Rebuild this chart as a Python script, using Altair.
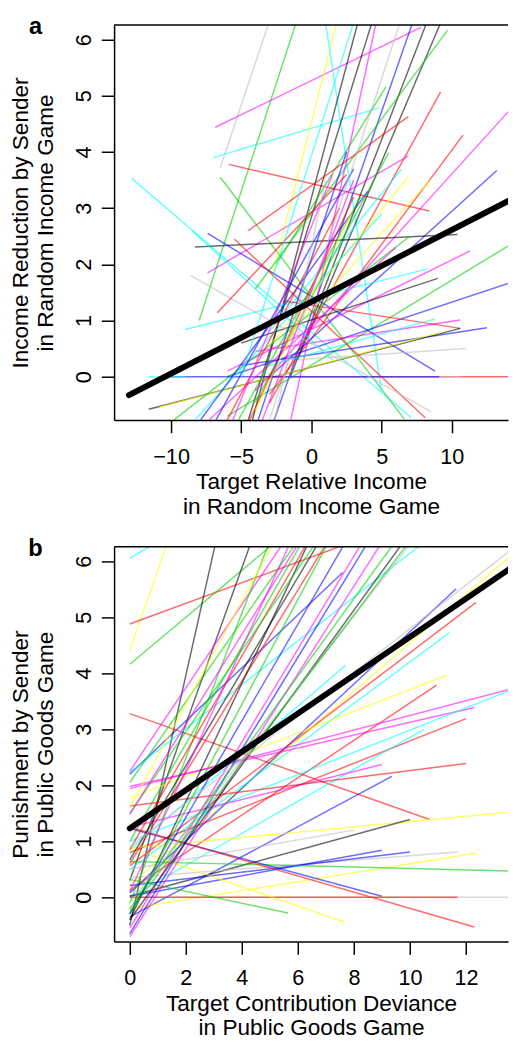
import altair as alt
import pandas as pd

FONT = "Liberation Sans"
FS = 22
TFS = 23
W = 401
H = 402

PALETTE_NAMES = ["black", "red", "green", "blue", "cyan", "magenta", "yellow", "gray"]
PALETTE_HEX = ["#000000", "#FF0000", "#00CD00", "#0000FF", "#00FFFF", "#FF00FF", "#FFFF00", "#BEBEBE"]

# ---------------- Panel a: individual regression segments ----------------
A_COL = ["gray", "green", "magenta", "cyan", "red", "cyan", "green", "yellow", "cyan", "black",
         "black", "black", "black", "blue", "magenta", "green", "green", "red", "red", "red",
         "magenta", "blue", "magenta", "cyan", "yellow", "yellow", "green", "black", "blue", "green",
         "magenta", "cyan", "black", "blue", "magenta", "red", "blue", "cyan", "black", "yellow",
         "gray", "red", "gray", "blue", "cyan", "red", "cyan", "gray", "red", "green",
         "cyan", "blue", "magenta", "blue", "red", "magenta", "green", "red", "gray", "blue",
         "magenta", "gray", "yellow", "cyan"]
A_X1 = [-6.5, -8.0, -6.85, -7.0, -5.9, -12.8, -6.5, -2.8, 1.0, -4.2,
        -4.5, -1.5, -1.0, -2.7, -1.5, -4.0, -2.5, -3.0, -4.5, -3.0,
        -4.0, -3.0, -7.4, -3.0, -3.0, -2.5, -4.0, -8.3, -7.4, -6.0,
        -6.0, -9.0, -5.0, -6.0, -4.0, -2.0, -5.0, -3.0, -11.6, -10.8,
        -1.0, -4.0, -2.0, -10.0, -11.6, -5.5, -8.5, -8.6, -6.7, -9.8,
        -8.3, -7.9, -7.3, -6.8, -6.0, -5.6, -5.2, -4.4, -3.0, -3.8,
        -3.5, -2.6, -4.0, -5.0]
A_Y1 = [3.72, 1.0, 4.44, 3.9, 3.78, 3.53, 3.55, 1.8, 6.3, -0.77,
        -0.77, 0.0, 0.3, -0.8, -0.8, 1.56, 2.0, -0.47, 2.6, -0.32,
        -0.25, 0.0, 1.85, 0.8, 0.55, 0.5, -0.45, 2.31, 2.55, -0.7,
        0.1, 0.84, 0.6, 0.0, 0.45, 1.35, 0.2, 0.2, -0.58, -0.54,
        0.3, 0.0, 0.0, 0.0, 0.0, 2.45, 2.6, 1.8, 1.14, -0.77,
        -0.77, -0.77, -0.77, -0.77, -0.77, -0.77, -0.77, -0.77, -0.77, -0.77,
        -0.77, -0.77, -0.6, 0.0]
A_X2 = [-2.9, -1.1, 7.8, 4.9, 8.4, 7.1, 6.6, 1.8, 5.0, 3.3,
        4.3, 8.2, 9.2, 7.2, 4.6, 9.7, 5.3, 9.2, 6.9, 10.8,
        14.5, 13.2, 6.9, 6.4, 6.9, 8.5, 5.5, 10.4, 8.8, 14.5,
        11.3, 8.3, 9.0, 14.5, 10.6, 10.6, 12.5, 8.8, 10.6, 9.2,
        11.0, 14.5, 10.7, 9.1, -9.0, 8.1, 1.5, 8.5, 2.5, 7.0,
        5.0, 4.0, 6.0, 3.0, 2.0, 1.5, 3.5, 3.0, 6.3, 2.5,
        3.0, 1.0, 3.0, 3.0]
A_Y2 = [6.4, 6.3, 6.22, 4.79, 2.95, -0.73, -0.75, 6.3, -0.26, 6.3,
        6.3, 6.3, 6.3, 6.3, 6.3, 6.17, 5.16, 5.07, 4.63, 4.3,
        4.85, 3.67, 3.93, 3.69, 3.55, 3.51, 3.99, 2.53, 0.1, 2.4,
        2.24, 1.92, 1.75, 1.7, 1.01, 0.86, 0.87, 1.03, 0.86, 0.79,
        0.5, 0.0, 0.0, 0.0, 0.0, -0.73, 0.3, -0.62, 3.6, 2.5,
        2.9, 3.3, 2.3, 3.7, 3.0, 3.6, 3.2, 3.2, 6.3, 4.0,
        3.5, 3.5, 3.0, 6.3]
A_FIT_X = [-13.0, 14.5]
A_FIT_Y = [-0.33, 3.19]

# ---------------- Panel b: individual regression segments ----------------
B_COL = ["cyan", "yellow", "red", "green", "red", "black", "black", "magenta", "blue", "cyan",
         "green", "green", "yellow", "blue", "red", "cyan", "cyan", "yellow", "red", "magenta",
         "magenta", "cyan", "red", "cyan", "magenta", "red", "blue", "yellow", "black", "gray",
         "gray", "blue", "blue", "yellow", "green", "blue", "red", "gray", "red", "yellow",
         "green", "green", "yellow", "red", "red", "black", "black", "green", "blue", "magenta",
         "blue", "magenta", "green", "black", "gray", "green", "magenta", "green", "magenta", "gray"]
B_X1 = [0.0] * 60
B_Y1 = [6.05, 4.4, 4.88, 4.16, 3.28, -0.5, 0.3, 2.25, 2.2, 2.23,
        2.05, 1.0, 0.22, 0.08, 0.56, 0.5, 0.85, 1.77, 0.13, 1.94,
        1.98, 1.0, 0.8, 0.0, 1.25, 1.63, -0.35, 0.88, 0.02, 0.5,
        0.35, 0.02, 0.21, -0.2, 0.64, 1.23, 1.25, 0.0, 0.0, 0.88,
        0.32, -0.1, 1.6, 0.85, 0.6, 0.67, -0.4, -0.3, -0.3, -0.55,
        -0.65, -0.7, -0.2, -0.4, -0.1, -0.25, 0.1, 1.5, 1.48, 0.9]
B_X2 = [1.0, 1.35, 7.7, 5.1, 10.7, 3.05, 4.3, 5.44, 7.6, 10.4,
        5.9, 6.1, 13.6, 11.65, 12.35, 11.4, 7.7, 11.3, 10.95, 13.6,
        12.3, 13.6, 12.0, 10.5, 9.0, 12.0, 9.35, 13.6, 10.0, 8.0,
        11.7, 9.0, 10.0, 12.4, 13.6, 9.0, 12.3, 13.6, 11.7, 7.65,
        5.65, 4.95, 5.1, 6.3, 7.0, 6.7, 6.35, 7.05, 7.65, 8.25,
        8.45, 8.95, 9.4, 9.7, 10.0, 9.9, 5.7, 6.6, 6.0, 13.6]
B_Y2 = [6.35, 6.35, 6.3, 6.3, 1.39, 6.3, 6.3, 6.3, 5.8, 6.3,
        6.3, 6.3, 6.1, 5.51, 5.26, 4.72, 4.14, 3.96, 3.79, 3.72,
        3.39, 3.7, 3.19, 3.0, 2.37, 2.39, 2.16, 1.52, 1.39, 1.2,
        0.81, 0.84, 0.81, 0.79, 0.47, 0.02, -0.53, 0.0, 0.0, -0.44,
        -0.28, 6.3, 6.3, 6.3, 6.3, 6.3, 6.3, 6.3, 6.3, 6.3,
        6.3, 6.3, 6.3, 6.3, 6.3, 6.3, 6.3, 6.3, 6.3, 6.2]
B_FIT_X = [0.0, 13.6]
B_FIT_Y = [1.23, 5.88]


def axis(values, title, is_y):
    kw = dict(values=values, title=title, grid=False, tickSize=13, tickWidth=1.5,
              tickColor="black", domainColor="black", domainWidth=1.5,
              labelFontSize=FS, labelFont=FONT, labelColor="black",
              titleFontSize=TFS, titleFont=FONT, titleFontWeight="normal",
              titleColor="black", titleLineHeight=25, labelFlush=False,
              labelOverlap=False)
    if is_y:
        kw.update(labelAngle=270, labelAlign="center", labelBaseline="bottom",
                  labelPadding=6, titleAngle=270, titleAlign="center",
                  titleBaseline="top", titleX=-106, titleY=H / 2)
    else:
        kw.update(labelPadding=14, titlePadding=4)
    return alt.Axis(**kw)


def panel(cols, x1, y1, x2, y2, fx, fy, xdom, xticks, ydom, xtitle, ytitle, letter):
    seg = pd.DataFrame({"col": cols, "x1": x1, "y1": y1, "x2": x2, "y2": y2})
    fit = pd.DataFrame({"x1": [fx[0]], "y1": [fy[0]], "x2": [fx[1]], "y2": [fy[1]]})
    X = alt.X("x1:Q", scale=alt.Scale(domain=xdom, nice=False, zero=False),
              axis=axis(xticks, xtitle, False))
    Y = alt.Y("y1:Q", scale=alt.Scale(domain=ydom, nice=False, zero=False),
              axis=axis([0, 1, 2, 3, 4, 5, 6], ytitle, True))
    lines = alt.Chart(seg).mark_rule(clip=True, opacity=0.58, strokeWidth=1.5).encode(
        x=X, y=Y, x2="x2:Q", y2="y2:Q",
        color=alt.Color("col:N", scale=alt.Scale(domain=PALETTE_NAMES, range=PALETTE_HEX), legend=None),
    )
    thick = alt.Chart(fit).mark_rule(clip=True, color="black", strokeWidth=6, strokeCap="round").encode(
        x=X, y=Y, x2="x2:Q", y2="y2:Q")
    one = pd.DataFrame({"k": [0]})
    top = alt.Chart(one).mark_rule(color="black", strokeWidth=1.5).encode(
        x=alt.value(0), x2=alt.value(W), y=alt.value(0))
    lab = alt.Chart(one).mark_text(font=FONT, fontSize=24, fontWeight="bold", color="black",
                                   align="center", baseline="alphabetic").encode(
        x=alt.value(-80), y=alt.value(9), text=alt.value(letter))
    return alt.layer(lines, thick, top, lab).properties(width=W, height=H)


pa = panel(A_COL, A_X1, A_Y1, A_X2, A_Y2, A_FIT_X, A_FIT_Y,
           [-14.06, 14.0], [-10, -5, 0, 5, 10], [-0.77, 6.26],
           ["Target Relative Income", "in Random Income Game"],
           ["Income Reduction by Sender", "in Random Income Game"], "a")
pb = panel(B_COL, B_X1, B_Y1, B_X2, B_Y2, B_FIT_X, B_FIT_Y,
           [-0.56, 13.5], [0, 2, 4, 6, 8, 10, 12], [-0.79, 6.26],
           ["Target Contribution Deviance", "in Public Goods Game"],
           ["Punishment by Sender", "in Public Goods Game"], "b")

chart = alt.vconcat(pa, pb, spacing=19).properties(
    padding={"left": 2, "top": -2, "right": 0, "bottom": 0}
).configure_view(stroke=None)

chart.save("out.html", embed_options={"renderer": "svg", "actions": False})
